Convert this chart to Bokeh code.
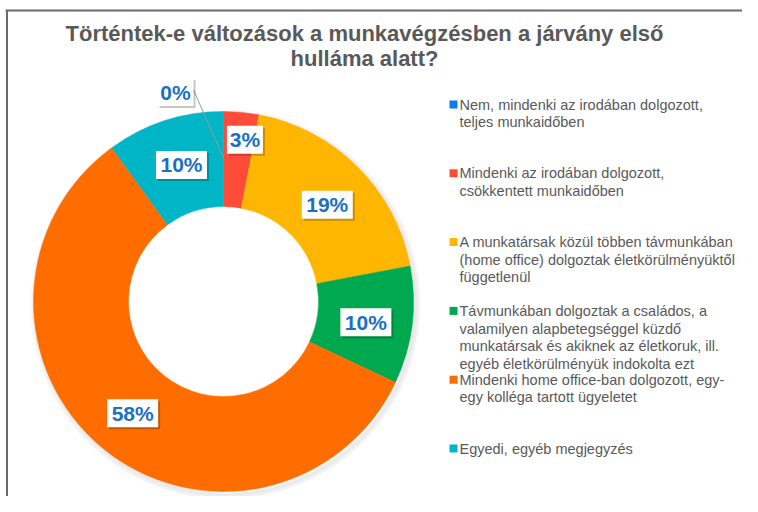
import math
from bokeh.plotting import figure
from bokeh.models import Range1d, ColumnDataSource
from bokeh.core.properties import value
from bokeh.embed import file_html
from bokeh.resources import INLINE

# ---- data ----
categories = [
    "Nem, mindenki az irodában dolgozott,\nteljes munkaidőben",
    "Mindenki az irodában dolgozott,\ncsökkentett munkaidőben",
    "A munkatársak közül többen távmunkában\n(home office) dolgoztak életkörülményüktől\nfüggetlenül",
    "Távmunkában dolgoztak a családos, a\nvalamilyen alapbetegséggel küzdő\nmunkatársak és akiknek az életkoruk, ill.\negyéb életkörülményük indokolta ezt",
    "Mindenki home office-ban dolgozott, egy-\negy kolléga tartott ügyeletet",
    "Egyedi, egyéb megjegyzés",
]
values = [0, 3, 19, 10, 58, 10]
colors = ["#0A7CF0", "#FF4B3A", "#FFB600", "#00A84F", "#FF6D00", "#00B5C5"]
title_lines = ["Történtek-e változások a munkavégzésben a járvány első", "hulláma alatt?"]

# ---- layout ----
W, H = 742, 496
def X(px): return px
def Y(py): return H - py

p = figure(width=W, height=H, output_backend="svg", toolbar_location=None,
           x_range=Range1d(0, W), y_range=Range1d(0, H), min_border=0)
p.axis.visible = False
p.grid.visible = False
p.outline_line_color = None
p.background_fill_color = "white"

# frame (top and left edges of the cropped chart border)
p.segment(x0=[X(5), X(6.5)], y0=[Y(10), Y(10)], x1=[X(760), X(6.5)], y1=[Y(10), Y(520)],
          line_color="#6a6a6a", line_width=2)

cx, cy = X(223), Y(301)
r_out, r_in = 190, 95

# soft shadow of the donut
for k, a in enumerate([0.05, 0.04, 0.03, 0.02]):
    p.annulus(x=cx + 2, y=cy - 3, inner_radius=r_out - 2 + k * 1.5, outer_radius=r_out + 1 + k * 1.5,
              fill_color="black", fill_alpha=a, line_color=None)

total = sum(values)
starts, ends, mids = [], [], []
cum = 0
for v in values:
    a0 = math.pi / 2 - 2 * math.pi * cum / total
    cum += v
    a1 = math.pi / 2 - 2 * math.pi * cum / total
    starts.append(a0); ends.append(a1); mids.append((a0 + a1) / 2)

idx = [i for i, v in enumerate(values) if v > 0]
src = ColumnDataSource(dict(
    start=[starts[i] for i in idx], end=[ends[i] for i in idx], color=[colors[i] for i in idx]))
p.annular_wedge(x=cx, y=cy, inner_radius=r_in, outer_radius=r_out, start_angle="start",
                end_angle="end", direction="clock", fill_color="color", line_color="color",
                line_width=0.5, source=src)

# data labels
r_mid = (r_in + r_out) / 2
offsets = [(-48, 67), (8, 20), (3, -4), (1, -3), (0, -2), (2, 1)]
lx, ly, lt, bw = [], [], [], []
for i, v in enumerate(values):
    x = cx + r_mid * math.cos(mids[i]) + offsets[i][0]
    y = cy + r_mid * math.sin(mids[i]) + offsets[i][1]
    t = f"{v}%"
    lx.append(x); ly.append(y); lt.append(t); bw.append(6 + 15 * len(t))

# leader line for 0%
p.segment(x0=[lx[0] + bw[0] / 2], y0=[ly[0] + 2],
          x1=[cx + r_mid * math.cos(mids[0])], y1=[cy + r_mid * math.sin(mids[0]) + 1],
          line_color="#9a9a9a", line_width=1)

p.rect(x=[x + 2 for x in lx], y=[y - 2 for y in ly], width=bw, height=28,
       fill_color="black", fill_alpha=0.22, line_color=None)
p.rect(x=lx, y=ly, width=bw, height=28, fill_color="white", line_color=None)
p.text(x=lx, y=ly, text=lt, text_font=value("Liberation Sans"), text_font_size="21px",
       text_font_style="bold", text_color="#1B6FC4", text_align="center", text_baseline="middle")

# title
p.text(x=[X(364)] * 2, y=[Y(33), Y(58)], text=title_lines, text_font=value("Liberation Sans"),
       text_font_size="22px", text_font_style="bold", text_color="#595959",
       text_align="center", text_baseline="middle")

# legend
tx, ty, tt = [], [], []
sx, sy = [], []
for i, c in enumerate(categories):
    y0 = 104 + 68.8 * i
    for j, line in enumerate(c.split("\n")):
        tx.append(X(459)); ty.append(Y(y0 + 17.6 * j)); tt.append(line)
    sx.append(X(453)); sy.append(Y(y0))
p.rect(x=sx, y=sy, width=8, height=8, fill_color=colors, line_color=None)
p.text(x=tx, y=ty, text=tt, text_font=value("Liberation Sans"), text_font_size="14.5px",
       text_color="#595959", text_align="left", text_baseline="middle")

open("out.html", "w").write(file_html(p, INLINE))
